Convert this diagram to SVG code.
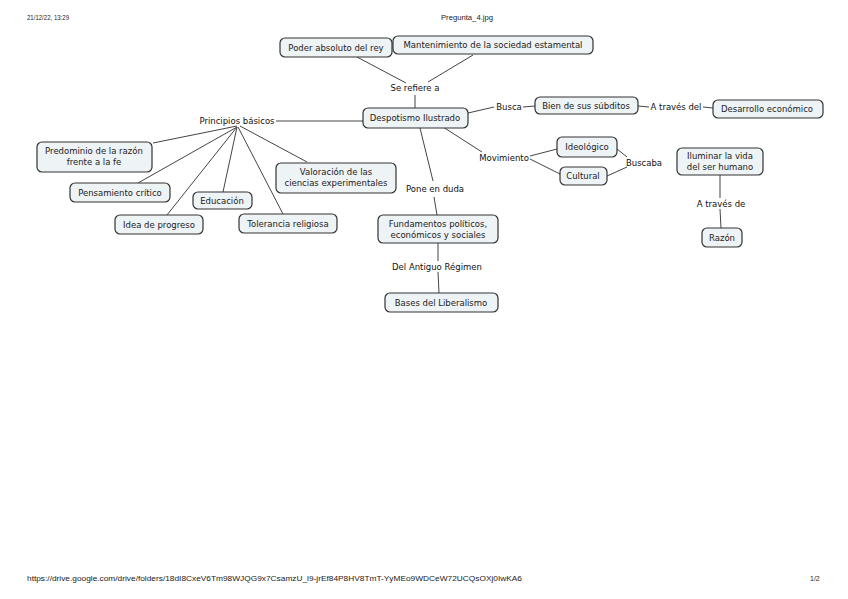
<svg xmlns="http://www.w3.org/2000/svg" width="848" height="599" viewBox="0 0 848 599">
<style>
.n rect{fill:#eef3f5;stroke:#333;stroke-width:1.2}
.n text,.lb{font-family:"DejaVu Sans",sans-serif;font-size:8.5px;fill:#222;text-anchor:middle}
.lb{fill:#111}
.c line,.c polyline{stroke:#444;stroke-width:1;fill:none}
.hd{font-family:"Liberation Sans",sans-serif;font-size:7px;fill:#222}
</style>
<rect width="848" height="599" fill="#fff"/>
<text class="hd" x="27" y="20" textLength="42" lengthAdjust="spacingAndGlyphs">21/12/22, 13:29</text>
<text class="hd" x="441" y="20" textLength="52" lengthAdjust="spacingAndGlyphs">Pregunta_4.jpg</text>
<text class="hd" x="27" y="581" textLength="495" lengthAdjust="spacingAndGlyphs">https://drive.google.com/drive/folders/18dI8CxeV6Tm98WJQG9x7CsamzU_l9-jrEf84P8HV8TmT-YyMEo9WDCeW72UCQsOXj0IwKA6</text>
<text class="hd" x="810" y="581">1/2</text>
<g class="c" id="connectors">
<line x1="357" y1="57" x2="406" y2="83"/>
<line x1="473" y1="55" x2="428" y2="82"/>
<line x1="415" y1="95" x2="415" y2="108"/>
<line x1="468" y1="113" x2="494" y2="107"/>
<line x1="523" y1="107" x2="535" y2="106"/>
<line x1="638" y1="106" x2="649" y2="107"/>
<line x1="703" y1="107" x2="713" y2="108"/>
<line x1="276" y1="121" x2="363" y2="121"/>
<line x1="237" y1="126" x2="153" y2="143"/>
<line x1="237" y1="127" x2="138" y2="183"/>
<line x1="237" y1="127" x2="167" y2="215"/>
<line x1="237" y1="127" x2="223" y2="192"/>
<line x1="238" y1="127" x2="283" y2="214"/>
<line x1="240" y1="126" x2="307" y2="162"/>
<line x1="420" y1="128" x2="433" y2="181"/>
<line x1="434" y1="197" x2="437" y2="215"/>
<line x1="443" y1="127" x2="482" y2="152"/>
<line x1="530" y1="156" x2="557" y2="149"/>
<line x1="530" y1="159" x2="560" y2="174"/>
<line x1="617" y1="149" x2="627" y2="157"/>
<line x1="607" y1="176" x2="627" y2="167"/>
<line x1="438" y1="243" x2="438" y2="261"/>
<line x1="438" y1="272" x2="439" y2="293"/>
<line x1="720" y1="175" x2="720" y2="198"/>
<line x1="720" y1="209" x2="721" y2="228"/>
</g>
<text class="lb" x="415" y="91">Se refiere a</text>
<text class="lb" x="509" y="110">Busca</text>
<text class="lb" x="676" y="110">A través del</text>
<text class="lb" x="237" y="124">Principios básicos</text>
<text class="lb" x="435" y="192">Pone en duda</text>
<text class="lb" x="504" y="161">Movimiento</text>
<text class="lb" x="644" y="166">Buscaba</text>
<text class="lb" x="437" y="270">Del Antiguo Régimen</text>
<text class="lb" x="721" y="207">A través de</text>
<g class="n" id="poder"><rect x="280" y="38" width="112" height="19" rx="5"/><text x="336" y="51">Poder absoluto del rey</text></g>
<g class="n" id="mantenimiento"><rect x="393" y="36" width="200" height="18" rx="5"/><text x="493" y="48">Mantenimiento de la sociedad estamental</text></g>
<g class="n" id="despotismo"><rect x="363" y="108" width="105" height="20" rx="5"/><text x="415" y="121">Despotismo Ilustrado</text></g>
<g class="n" id="bien"><rect x="535" y="97" width="103" height="17" rx="5"/><text x="586" y="109">Bien de sus súbditos</text></g>
<g class="n" id="desarrollo"><rect x="713" y="100" width="110" height="18" rx="5"/><text x="767" y="112">Desarrollo económico</text></g>
<g class="n" id="predominio"><rect x="37" y="142" width="115" height="30" rx="5"/><text x="94" y="154">Predominio de la razón</text><text x="94" y="165">frente a la fe</text></g>
<g class="n" id="pensamiento"><rect x="70" y="183" width="100" height="19" rx="5"/><text x="120" y="196">Pensamiento crítico</text></g>
<g class="n" id="idea"><rect x="115" y="215" width="88" height="19" rx="5"/><text x="159" y="228">Idea de progreso</text></g>
<g class="n" id="educacion"><rect x="193" y="192" width="59" height="17" rx="5"/><text x="222" y="204">Educación</text></g>
<g class="n" id="tolerancia"><rect x="239" y="214" width="98" height="19" rx="5"/><text x="288" y="227">Tolerancia religiosa</text></g>
<g class="n" id="valoracion"><rect x="276" y="163" width="120" height="30" rx="5"/><text x="336" y="175">Valoración de las</text><text x="336" y="186">ciencias experimentales</text></g>
<g class="n" id="ideologico"><rect x="557" y="137" width="60" height="20" rx="5"/><text x="587" y="150">Ideológico</text></g>
<g class="n" id="cultural"><rect x="560" y="167" width="47" height="18" rx="5"/><text x="583" y="179">Cultural</text></g>
<g class="n" id="fundamentos"><rect x="378" y="215" width="120" height="28" rx="5"/><text x="438" y="227">Fundamentos políticos,</text><text x="438" y="238">económicos y sociales</text></g>
<g class="n" id="bases"><rect x="385" y="293" width="113" height="19" rx="5"/><text x="441" y="306">Bases del Liberalismo</text></g>
<g class="n" id="iluminar"><rect x="677" y="148" width="86" height="27" rx="5"/><text x="720" y="159">Iluminar la vida</text><text x="720" y="170">del ser humano</text></g>
<g class="n" id="razon"><rect x="702" y="228" width="40" height="19" rx="5"/><text x="722" y="241">Razón</text></g>
</svg>
